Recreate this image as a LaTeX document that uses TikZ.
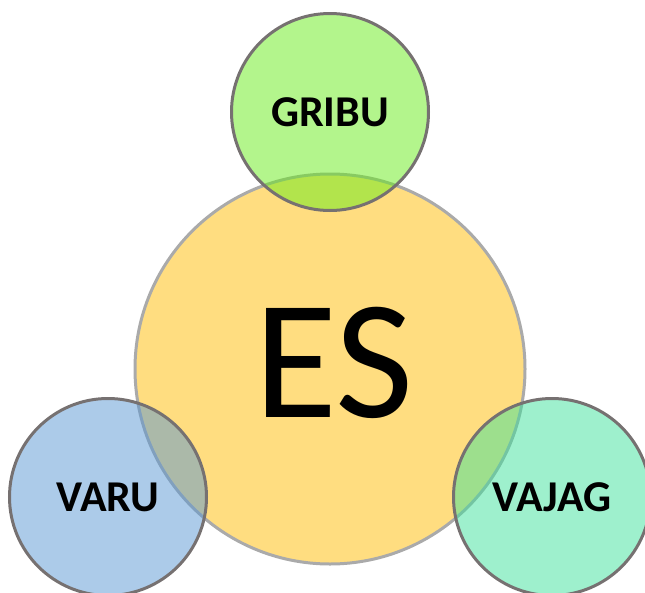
\documentclass[tikz,border=0pt]{standalone}
\usepackage{fontspec}
\setmainfont{Carlito}

\definecolor{esfill}{RGB}{255,221,128}
\definecolor{esline}{RGB}{170,170,170}
\definecolor{ringline}{RGB}{118,113,113}
\definecolor{gribufill}{RGB}{103,235,25}
\definecolor{varufill}{RGB}{89,151,211}
\definecolor{vajagfill}{RGB}{61,225,155}

\begin{document}
\begin{tikzpicture}[x=1pt, y=-1pt,
  ring/.style={circle, draw=ringline, line width=3pt, minimum size=197pt,
    fill opacity=0.5, text opacity=1, font=\fontsize{44}{46}\selectfont\bfseries}]

\useasboundingbox (0,0) rectangle (645,592);
\clip (0,0) rectangle (645,592);

% Nodes
\node (es) [circle, draw=esline, line width=3pt, fill=esfill, minimum size=390pt] at (330,369) {};
\node (estext) [anchor=base, inner sep=0pt, font=\fontsize{170}{172}\selectfont] at (334,417) {ES};

\node (gribu) [ring, fill=gribufill] at (330,112) {GRIBU};
\node (varu) [ring, fill=varufill] at (108,497) {VARU};
\node (vajag) [ring, fill=vajagfill] at (552,497) {VAJAG};

\end{tikzpicture}
\end{document}
